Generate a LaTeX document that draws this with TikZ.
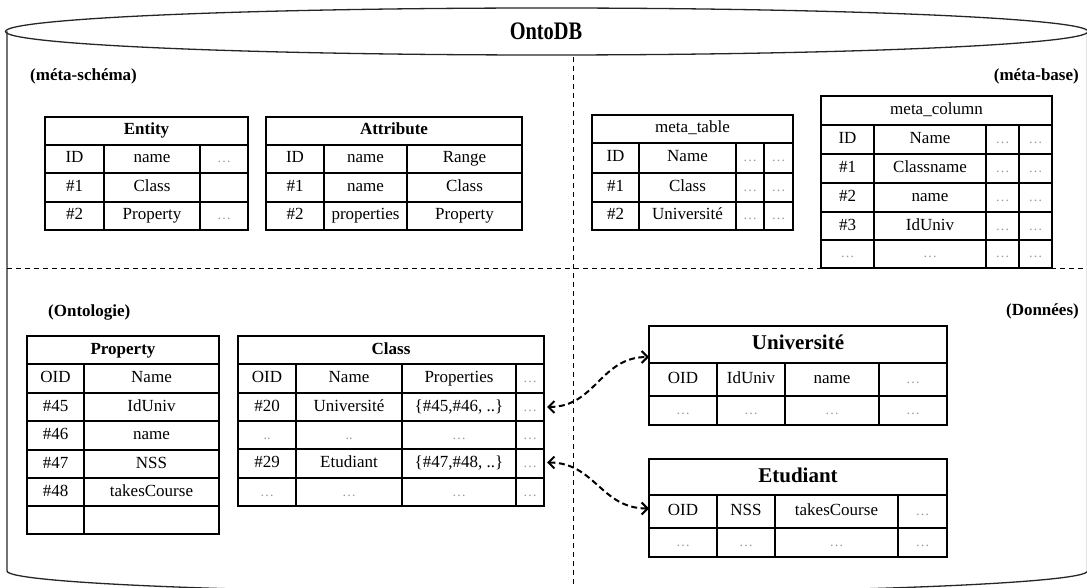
\documentclass[tikz,border=0pt]{standalone}
\usepackage{fontspec}
\setmainfont{Liberation Serif}
\usepackage{graphicx}
\usetikzlibrary{arrows.meta}
\definecolor{dotgray}{gray}{0.6}
\newcommand\dd{{\color{dotgray}\fontsize{14}{16}\selectfont\ldots}}
\newcommand\tdd{{\color{dotgray}\fontsize{14}{16}\selectfont..}}
\newcommand\bodyfont{\fontsize{17}{19}\selectfont}
\tikzset{
  cellbox/.style={draw, line width=1.1pt, inner sep=0pt, outer sep=0pt, font=\bodyfont, text=black, text height=11.5pt, text depth=3.5pt},
  boldhead/.style={font=\bfseries\fontsize{17}{19}\selectfont},
  plainhead/.style={font=\fontsize{17}{19}\selectfont},
  bighead/.style={font=\bfseries\fontsize{21}{24}\selectfont, text height=14pt, text depth=4pt},
  cyl/.style={line width=1.3pt, black!85},
  divider/.style={line width=0.9pt, dash pattern=on 5pt off 4pt},
  conn/.style={line width=2pt, dash pattern=on 6pt off 3.5pt, {Straight Barb[length=6pt,width=12pt]}-{Straight Barb[length=6pt,width=12pt]}},
  lbl/.style={font=\bfseries\fontsize{17}{19}\selectfont, inner sep=0pt}
}
% row of cells: #1 prefix, #2 y1, #3 y2, #4 list x1/x2/text
\newcommand\trow[4]{\foreach \xa/\xb/\txt [count=\ci] in {#4}{%
  \node[cellbox, minimum width={(\xb-\xa)*1pt}, minimum height={(#3-#2)*1pt}] (#1-\ci) at ({(\xa+\xb)/2},{(#2+#3)/2}) {\txt};}}
% header: #1 name, #2 x1, #3 y1, #4 x2, #5 y2, #6 style, #7 text
\newcommand\thdr[7]{\node[cellbox, #6, minimum width={(#4-#2)*1pt}, minimum height={(#5-#3)*1pt}] (#1) at ({(#2+#4)/2},{(#3+#5)/2}) {#7};}
\begin{document}
\begin{tikzpicture}[x=1pt, y=-1pt]
\useasboundingbox (0,0) rectangle (1087,588);
% cylinder
\draw[cyl] (546.75,31.5) ellipse [x radius=541.25pt, y radius=23.5pt];
\draw[cyl] (7,31.5) -- (7,571) arc[start angle=180, end angle=360, x radius=540.25pt, y radius=22pt] -- (1087.5,31.5);
\node[font=\bfseries\fontsize{21}{24}\selectfont, inner sep=0pt] (title) at (546,31) {\scalebox{0.97}[1.2]{OntoDB}};
% dividers
\coordinate (vtop) at (573,57);
\coordinate (vbot) at (573,588);
\coordinate (hl) at (7,268);
\coordinate (hr) at (1087,268);
\draw[divider] (vtop) -- (vbot);
\draw[divider] (hl) -- (hr);
% labels
\node[lbl, anchor=west] (lms) at (30,76) {(méta-schéma)};
\node[lbl, anchor=east] (lmb) at (1079,76) {(méta-base)};
\node[lbl, anchor=west] (lon) at (48,312) {(Ontologie)};
\node[lbl, anchor=east] (ldo) at (1079,311) {(Données)};
% Entity
\thdr{ent-h}{45}{117}{248}{145}{boldhead}{Entity}
\trow{ent-a}{145}{173}{45/104/ID, 104/200/name, 200/248/\dd}
\trow{ent-b}{173}{202}{45/104/\#1, 104/200/Class, 200/248/{}}
\trow{ent-c}{202}{230}{45/104/\#2, 104/200/Property, 200/248/\dd}
% Attribute
\thdr{att-h}{266}{117}{522}{145}{boldhead}{Attribute}
\trow{att-a}{145}{173}{266/324/ID, 324/407/name, 407/522/Range}
\trow{att-b}{173}{202}{266/324/\#1, 324/407/name, 407/522/Class}
\trow{att-c}{202}{230}{266/324/\#2, 324/407/properties, 407/522/Property}
% meta_table
\thdr{mt-h}{592}{115}{793}{143}{plainhead}{meta\_table}
\trow{mt-a}{143}{173}{592/639/ID, 639/736/Name, 736/764/\dd, 764/793/\dd}
\trow{mt-b}{173}{202}{592/639/\#1, 639/736/Class, 736/764/\dd, 764/793/\dd}
\trow{mt-c}{202}{230}{592/639/\#2, 639/736/Université, 736/764/\dd, 764/793/\dd}
% meta_column
\thdr{mc-h}{821}{96}{1052}{125}{plainhead}{meta\_column}
\trow{mc-a}{125}{154}{821/874/ID, 874/986/Name, 986/1019/\dd, 1019/1052/\dd}
\trow{mc-b}{154}{183}{821/874/\#1, 874/986/Classname, 986/1019/\dd, 1019/1052/\dd}
\trow{mc-c}{183}{212}{821/874/\#2, 874/986/name, 986/1019/\dd, 1019/1052/\dd}
\trow{mc-d}{212}{240}{821/874/\#3, 874/986/IdUniv, 986/1019/\dd, 1019/1052/\dd}
\trow{mc-e}{240}{268}{821/874/\dd, 874/986/\dd, 986/1019/\dd, 1019/1052/\dd}
% Property
\thdr{prop-h}{27}{336}{219}{364}{boldhead}{Property}
\trow{prop-a}{364}{393}{27/84/OID, 84/219/Name}
\trow{prop-b}{393}{421}{27/84/\#45, 84/219/IdUniv}
\trow{prop-c}{421}{450}{27/84/\#46, 84/219/name}
\trow{prop-d}{450}{478}{27/84/\#47, 84/219/NSS}
\trow{prop-e}{478}{506}{27/84/\#48, 84/219/takesCourse}
\trow{prop-f}{506}{534}{27/84/{}, 84/219/{}}
% Class
\thdr{cls-h}{238}{336}{544}{364}{boldhead}{Class}
\trow{cls-a}{364}{393}{238/296/OID, 296/402/Name, 402/516/Properties, 516/544/\dd}
\trow{cls-b}{393}{421}{238/296/\#20, 296/402/Université, 402/516/{\{\#45,\#46, ..\}}, 516/544/\dd}
\trow{cls-c}{421}{449}{238/296/\tdd, 296/402/\tdd, 402/516/\dd, 516/544/\dd}
\trow{cls-d}{449}{478}{238/296/\#29, 296/402/Etudiant, 402/516/{\{\#47,\#48, ..\}}, 516/544/\dd}
\trow{cls-e}{478}{506}{238/296/\dd, 296/402/\dd, 402/516/\dd, 516/544/\dd}
% Universite
\thdr{univ-h}{649}{326}{947}{363}{bighead}{Université}
\trow{univ-a}{363}{396}{649/717/OID, 717/785/IdUniv, 785/879/name, 879/947/\dd}
\trow{univ-b}{396}{425}{649/717/\dd, 717/785/\dd, 785/879/\dd, 879/947/\dd}
% Etudiant
\thdr{etu-h}{649}{459}{947}{495}{bighead}{Etudiant}
\trow{etu-a}{495}{528}{649/717/OID, 717/775/NSS, 775/898/takesCourse, 898/947/\dd}
\trow{etu-b}{528}{557}{649/717/\dd, 717/775/\dd, 775/898/\dd, 898/947/\dd}
% connectors
\draw[conn] ([xshift=3pt]cls-b-4.east) to[out=0, in=180, looseness=1.1] ([yshift=6pt]univ-h.south west);
\draw[conn] ([xshift=3pt,yshift=1pt]cls-d-4.east) to[out=0, in=180, looseness=1.1] ([yshift=3pt]etu-a-1.west);
\end{tikzpicture}
\end{document}
